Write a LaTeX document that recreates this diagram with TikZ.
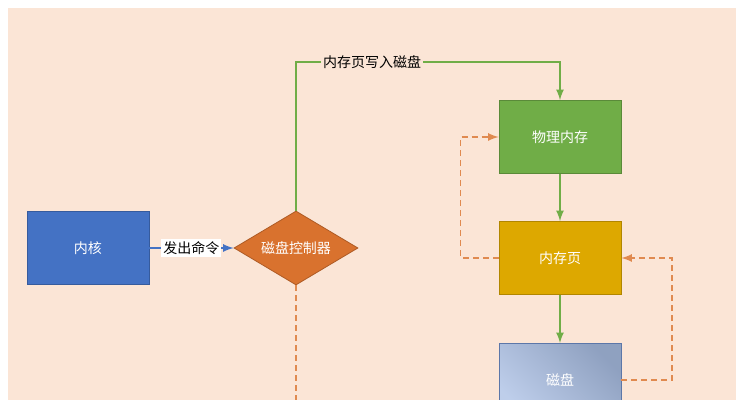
\documentclass[tikz,border=0pt]{standalone}
\usepackage{fontspec}
\newfontfamily\cjk{Noto Sans CJK SC}
\usetikzlibrary{shapes.geometric,positioning}
\definecolor{peach}{HTML}{FBE5D6}
\definecolor{kblue}{HTML}{4472C4}
\definecolor{korange}{HTML}{D9722E}
\definecolor{kgreen}{HTML}{70AD47}
\definecolor{kgold}{HTML}{DDA800}
\definecolor{kline}{HTML}{E08A50}
\begin{document}
\begin{tikzpicture}[x=0.5pt,y=-0.5pt,>=latex,font=\cjk\fontsize{7}{8}\selectfont,
  box/.style={draw=#1!80!black,fill=#1,minimum width=61pt,minimum height=36.5pt,text=white,inner sep=0pt},
  green line/.style={draw=kgreen,line width=0.8pt},
  dash line/.style={draw=kline,line width=0.8pt,dash pattern=on 3pt off 2pt}]
  \useasboundingbox (0,0) rectangle (746,400);
  \fill[white] (0,0) rectangle (746,400);
  \fill[peach] (8,8) rectangle (736,400);
  \node[box=kblue] (kernel) at (88,248) {内核};
  \node[diamond,draw=korange!80!black,fill=korange,text=white,minimum width=62pt,minimum height=37pt,aspect=1.7,inner sep=0pt] (ctrl) at (296,248) {磁盘控制器};
  \node[box=kgreen] (phys) at (560,137) {物理内存};
  \node[box=kgold] (page) at (560,258) {内存页};
  \node[draw=kblue!60!gray,left color=kblue!35!white,right color=kblue!55!gray!70,shading angle=135,minimum width=61pt,minimum height=36.5pt,text=white,inner sep=0pt,anchor=north] (disk) at (560,343) {磁盘};
  \coordinate (bottom) at (296,400);
  % connectors
  \draw[->,kblue,line width=0.8pt] (kernel) -- node[fill=white,inner sep=1pt,text=black] {发出命令} (ctrl);
  \draw[->,green line] (ctrl.north) |- (372,62) node[fill=peach,inner sep=1pt,text=black] {内存页写入磁盘} -| (phys.north);
  \draw[->,green line] (phys) -- (page);
  \draw[->,green line] (page) -- (disk);
  \draw[dash line] (ctrl.south) -- (bottom);
  \draw[->,dash line] (page.west) -- ++(-38,0) |- (phys.west);
  \draw[->,dash line] (disk.east |- 0,380) -- (672,380) |- (page.east);
\end{tikzpicture}
\end{document}
